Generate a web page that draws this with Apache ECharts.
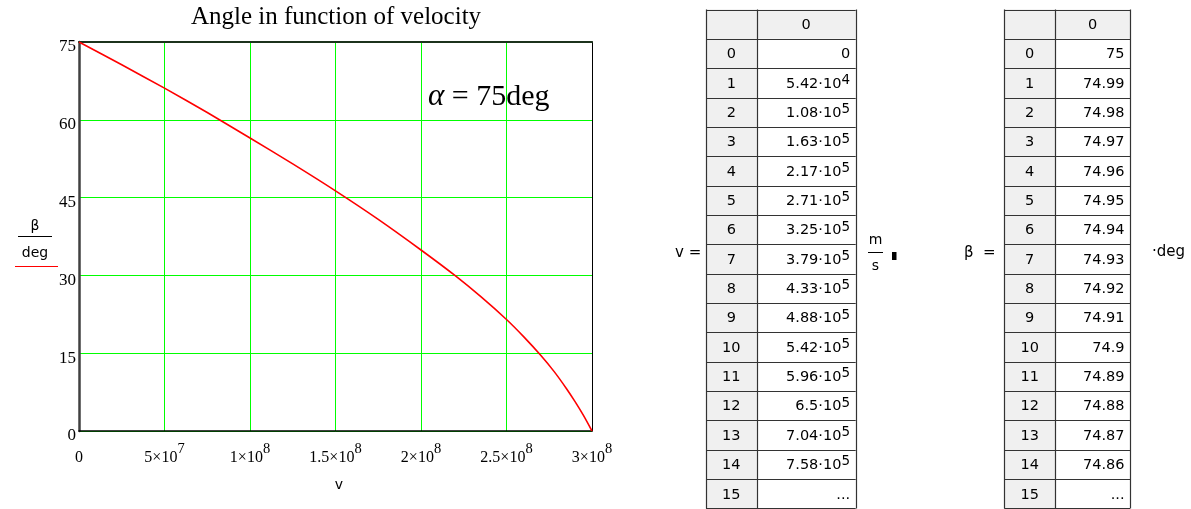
<!DOCTYPE html>
<html>
<head>
<meta charset="utf-8">
<title>Angle in function of velocity</title>
<script src="https://cdn.jsdelivr.net/npm/echarts@6/dist/echarts.min.js"></script>
<style>
  html, body { margin: 0; padding: 0; background: #ffffff; }
  #chart { width: 1191px; height: 509px; }
</style>
</head>
<body>
<div id="chart"></div>
<script>
// Curve samples: velocity v (m/s) and angle beta (deg)
const curveV = [0, 0.25e8, 0.5e8, 0.75e8, 1.0e8, 1.25e8, 1.5e8, 1.75e8, 2.0e8, 2.2e8,
                2.35e8, 2.5e8, 2.6e8, 2.7e8, 2.78e8, 2.85e8, 2.9e8, 2.95e8, 3.0e8];
const curveBeta = [75, 70.6, 66.1, 61.4, 56.5, 51.5, 46.3, 40.8, 34.9, 29.95,
                   25.9, 21.5, 18.2, 14.6, 11.4, 8.2, 5.7, 3.0, 0];

// Axis ticks
const xTickMant = ['0', '5', '1', '1.5', '2', '2.5', '3'];
const xTickExp = ['', '7', '8', '8', '8', '8', '8'];
const yTicks = [0, 15, 30, 45, 60, 75];

// Result tables
const rowIndex = ['0', '1', '2', '3', '4', '5', '6', '7', '8', '9', '10', '11', '12', '13', '14', '15'];
const vMant = ['0', '5.42', '1.08', '1.63', '2.17', '2.71', '3.25', '3.79', '4.33', '4.88',
               '5.42', '5.96', '6.5', '7.04', '7.58', '...'];
const vExp = ['', '4', '5', '5', '5', '5', '5', '5', '5', '5', '5', '5', '5', '5', '5', ''];
const betaCells = ['75', '74.99', '74.98', '74.97', '74.96', '74.95', '74.94', '74.93', '74.92',
                   '74.91', '74.9', '74.89', '74.88', '74.87', '74.86', '...'];

const SERIF = '"Liberation Serif", "Times New Roman", serif';
const SANS = '"DejaVu Sans", Tahoma, Verdana, sans-serif';
const CELL_FONT = '14.5px ' + SANS;

const chart = echarts.init(document.getElementById('chart'), null, { renderer: 'canvas' });

// ---- table drawing helpers ----
const TOP = 9.5, ROW_H = 29.35, PAD = 5.5;
function cellText(x, y, text, align, font) {
  return { type: 'text', x: x, y: y,
           style: { text: text, font: font || CELL_FONT, fill: '#000', align: align, verticalAlign: 'middle' } };
}
function buildTable(x0, xDiv, x1, valueCell) {
  const els = [];
  const nRows = rowIndex.length + 1;
  els.push({ type: 'rect', shape: { x: x0, y: TOP, width: x1 - x0, height: ROW_H },
             style: { fill: '#f0f0f0' }, silent: true });
  els.push({ type: 'rect', shape: { x: x0, y: TOP, width: xDiv - x0, height: ROW_H * nRows },
             style: { fill: '#f0f0f0' }, silent: true });
  for (let i = 0; i <= nRows; i++) {
    const y = Math.round(TOP + i * ROW_H) + 0.5;
    els.push({ type: 'line', shape: { x1: x0, y1: y, x2: x1, y2: y },
               style: { stroke: '#333333', lineWidth: 1.2 }, silent: true });
  }
  [x0, xDiv, x1].forEach(function (x) {
    const xx = Math.round(x) + 0.5;
    els.push({ type: 'line', shape: { x1: xx, y1: TOP, x2: xx, y2: TOP + ROW_H * nRows },
               style: { stroke: '#333333', lineWidth: 1.2 }, silent: true });
  });
  els.push(cellText((xDiv + x1) / 2, TOP + ROW_H / 2 + 1, '0', 'center'));
  rowIndex.forEach(function (r, i) {
    const cy = TOP + (i + 1.5) * ROW_H + 1;
    els.push(cellText((x0 + xDiv) / 2, cy, r, 'center'));
    valueCell(i, x1 - PAD, cy).forEach(function (e) { els.push(e); });
  });
  return els;
}

const vTable = buildTable(706, 756.7, 855.7, function (i, xr, cy) {
  if (!vExp[i]) return [cellText(xr, cy, vMant[i], 'right')];
  return [
    cellText(xr, cy - 3.5, vExp[i], 'right', '13.5px ' + SANS),
    cellText(xr - 8.8, cy, vMant[i] + '·10', 'right')
  ];
});
const bTable = buildTable(1004.3, 1055, 1130, function (i, xr, cy) {
  return [cellText(xr, cy, betaCells[i], 'right')];
});

const extraText = [
  // y-axis name as a fraction with the trace sample
  cellText(35, 226, 'β', 'center', '14px ' + SANS),
  { type: 'line', shape: { x1: 18, y1: 236.5, x2: 52, y2: 236.5 }, style: { stroke: '#000', lineWidth: 1 } },
  cellText(35, 253, 'deg', 'center', '14px ' + SANS),
  { type: 'line', shape: { x1: 15, y1: 266.5, x2: 58, y2: 266.5 }, style: { stroke: '#ff0000', lineWidth: 1.2 } },
  // x-axis name
  cellText(339, 485, 'v', 'center', '14px ' + SANS),
  // in-plot annotation
  { type: 'text', x: 428, y: 97, style: { text: '{a|α}{b| = 75deg}', align: 'left', verticalAlign: 'middle',
      rich: { a: { font: 'italic 31px ' + SERIF, fill: '#000' }, b: { font: '30px ' + SERIF, fill: '#000' } } } },
  // v = ... m/s
  cellText(675, 253, 'v =', 'left', '15px ' + SANS),
  cellText(875.5, 240, 'm', 'center', '14px ' + SANS),
  { type: 'line', shape: { x1: 868, y1: 252.5, x2: 883, y2: 252.5 }, style: { stroke: '#000', lineWidth: 1 } },
  cellText(875.5, 266, 's', 'center', '14px ' + SANS),
  { type: 'rect', shape: { x: 892, y: 252, width: 4.5, height: 8 }, style: { fill: '#000' } },
  // beta = ... deg
  cellText(964, 253, 'β  =', 'left', '15px ' + SANS),
  cellText(1152, 252, '·deg', 'left', '15px ' + SANS)
];

const option = {
  animation: false,
  backgroundColor: '#ffffff',
  title: {
    text: 'Angle in function of velocity',
    left: 336, top: 5, textAlign: 'center', padding: 0,
    textStyle: { fontFamily: SERIF, fontSize: 25, fontWeight: 'normal', color: '#000' }
  },
  grid: { left: 79, top: 42, width: 513, height: 389, containLabel: false },
  xAxis: [{
    type: 'value', min: 0, max: 3e8, interval: 5e7, position: 'bottom',
    axisLine: { show: true, onZero: false, lineStyle: { color: '#000', width: 1.5 } },
    axisTick: { show: false },
    splitLine: { show: true, lineStyle: { color: '#00ff00', width: 1 } },
    axisLabel: {
      margin: 10.5,
      formatter: function (val) {
        const i = Math.round(val / 5e7);
        return xTickExp[i] ? '{m|' + xTickMant[i] + '×10}{e|' + xTickExp[i] + '}' : '{m|' + xTickMant[i] + '}';
      },
      rich: {
        m: { fontFamily: SERIF, fontSize: 16, color: '#000', verticalAlign: 'bottom', lineHeight: 24 },
        e: { fontFamily: SERIF, fontSize: 14.5, color: '#000', verticalAlign: 'top', lineHeight: 24 }
      }
    }
  }, {
    type: 'value', min: 0, max: 3e8, interval: 5e7, position: 'top',
    axisLine: { show: true, onZero: false, lineStyle: { color: '#1c331c', width: 2 } },
    axisTick: { show: false }, axisLabel: { show: false }, splitLine: { show: false }
  }],
  yAxis: [{
    type: 'value', min: 0, max: 75, interval: 15, position: 'left',
    axisLine: { show: true, onZero: false, lineStyle: { color: '#404040', width: 2.5 } },
    axisTick: { show: false },
    splitLine: { show: true, lineStyle: { color: '#00ff00', width: 1 } },
    axisLabel: {
      margin: 3, fontFamily: SERIF, fontSize: 17, color: '#000',
      verticalAlign: 'top', lineHeight: 10,
      formatter: function (val) { return yTicks.indexOf(val) >= 0 ? String(val) : ''; }
    }
  }, {
    type: 'value', min: 0, max: 75, interval: 15, position: 'right',
    axisLine: { show: true, onZero: false, lineStyle: { color: '#000', width: 1 } },
    axisTick: { show: false }, axisLabel: { show: false }, splitLine: { show: false }
  }],
  series: [{
    type: 'line',
    xAxisIndex: 0, yAxisIndex: 0,
    data: curveV.map(function (v, i) { return [v, curveBeta[i]]; }),
    showSymbol: false,
    smooth: 0.25,
    lineStyle: { color: '#ff0000', width: 1.6 },
    z: 5
  }],
  graphic: { elements: vTable.concat(bTable, extraText) }
};

chart.setOption(option);
</script>
</body>
</html>
